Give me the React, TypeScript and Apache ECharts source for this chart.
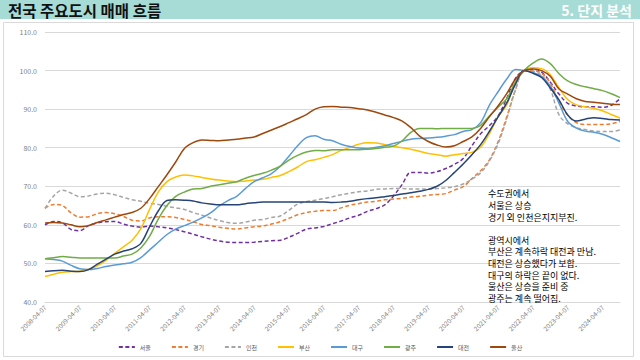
import React, { useEffect, useRef } from "react";
import * as echarts from "echarts";

// Quarterly categories 2008-04-07 .. 2024-10-07
const categories: string[] = [];
for (let i = 0; i < 67; i++) {
  const m = 3 + 3 * i; // zero-based month index from Jan 2008
  const y = 2008 + Math.floor(m / 12);
  const mm = (m % 12) + 1;
  categories.push(`${y}-${String(mm).padStart(2, "0")}-07`);
}

const seriesNames = ["서울", "경기", "인천", "부산", "대구", "광주", "대전", "울산"];

const seoul = [60.0, 60.9, 60.5, 58.8, 58.5, 59.8, 60.5, 60.8, 60.9, 60.2, 59.7, 59.4, 59.7, 59.5, 59.2, 58.8, 58.2, 57.6, 56.9, 56.3, 55.8, 55.5, 55.4, 55.4, 55.5, 55.7, 55.9, 56.0, 56.8, 57.8, 58.9, 59.2, 59.6,
  60.3, 61.0, 61.8, 62.5, 63.5, 64.2, 65.2, 67.5, 70.5, 73.6, 73.6, 73.4, 73.8, 74.6, 75.7, 77.2, 80.5, 83.6, 85.7, 88.2, 92.8, 98.0, 100, 100.4, 99.6, 97.0, 93.9, 91.5, 90.8, 90.6, 90.6, 90.5, 91.0, 92.7];
const gyeonggi = [64.3, 65.3, 65.0, 63.1, 62.0, 62.1, 62.9, 63.2, 62.9, 62.2, 61.2, 61.0, 61.8, 62.1, 62.1, 61.9, 61.4, 60.8, 60.1, 59.8, 59.4, 59.1, 58.9, 59.2, 59.5, 59.7, 60.2, 60.8, 61.7, 62.6, 63.2, 63.5, 63.7,
  63.7, 64.4, 65.1, 65.5, 65.9, 66.1, 66.5, 66.7, 66.9, 67.2, 67.4, 67.7, 67.9, 68.1, 69.0, 69.9, 72.0, 74.0, 76.8, 81.5, 88.0, 95.0, 100, 100.0, 99.3, 96.8, 92.0, 88.4, 86.5, 86.0, 86.0, 86.0, 86.2, 86.8];
const incheon = [64.3, 67.5, 69.0, 68.2, 67.3, 67.5, 68.0, 68.2, 67.8, 67.1, 66.5, 66.1, 65.6, 65.3, 64.8, 64.4, 64.0, 63.2, 62.5, 61.8, 61.1, 60.6, 60.4, 60.7, 61.2, 61.4, 61.9, 62.3, 63.8, 65.4, 66.0, 66.4, 66.8,
  67.3, 67.8, 68.2, 68.6, 68.8, 69.2, 69.3, 69.4, 69.4, 69.3, 69.3, 69.3, 69.4, 69.6, 69.9, 70.6, 71.8, 73.5, 76.5, 81.0, 87.5, 95.0, 100, 99.8, 98.8, 95.2, 88.5, 86.2, 85.2, 84.7, 84.3, 84.2, 84.2, 84.6];
const busan = [46.6, 47.2, 47.7, 47.9, 48.0, 48.5, 49.4, 50.8, 52.6, 54.3, 56.0, 59.0, 64.0, 68.5, 71.2, 72.4, 72.9, 72.7, 72.3, 71.9, 71.6, 71.4, 71.2, 71.4, 71.6, 71.8, 72.3, 72.8, 73.8, 75.0, 76.4, 76.9, 77.5,
  78.2, 79.3, 80.1, 80.9, 81.3, 81.2, 80.8, 80.4, 80.0, 79.6, 79.1, 78.5, 78.2, 77.8, 78.2, 78.5, 78.8, 80.1, 83.6, 88.0, 91.1, 97.0, 100, 100.7, 100.5, 98.9, 95.5, 92.5, 91.1, 90.6, 90.2, 89.6, 88.6, 87.7];
const daegu = [51.2, 51.0, 50.6, 49.5, 48.6, 48.4, 48.7, 49.2, 49.6, 49.9, 50.3, 51.5, 53.5, 55.5, 57.5, 58.9, 59.8, 60.7, 61.8, 63.1, 64.9, 66.3, 67.4, 69.4, 71.2, 72.2, 73.3, 75.2, 77.8, 80.5, 82.6, 83.1, 82.2,
  81.8, 80.9, 80.3, 79.9, 79.8, 80.1, 80.5, 81.1, 81.7, 82.2, 82.4, 82.5, 82.7, 83.0, 83.4, 84.2, 84.7, 86.5, 91.0, 94.5, 97.8, 100.3, 100, 99.5, 98.5, 96.0, 91.5, 86.8, 85.1, 84.3, 84.0, 83.5, 82.6, 81.6];
const gwangju = [51.2, 51.5, 51.8, 51.6, 51.4, 51.4, 51.4, 51.4, 51.4, 51.9, 52.4, 54.0, 57.0, 61.5, 65.0, 67.4, 68.5, 69.3, 69.4, 70.0, 70.4, 70.8, 71.2, 72.1, 72.8, 73.4, 74.2, 75.2, 76.8, 78.0, 78.9, 79.3, 79.2,
  79.5, 79.5, 79.5, 79.5, 79.6, 79.8, 80.1, 80.4, 81.8, 84.0, 85.0, 85.0, 84.9, 85.0, 85.0, 85.0, 85.0, 85.8, 88.2, 90.5, 92.7, 97.0, 100, 101.9, 103.0, 101.8, 99.2, 97.3, 96.4, 95.8, 95.3, 94.8, 94.0, 93.0];
const daejeon = [47.9, 48.1, 48.2, 48.0, 47.9, 48.4, 49.8, 51.1, 52.4, 53.2, 53.8, 55.2, 59.5, 63.6, 66.3, 66.5, 66.4, 66.2, 65.7, 65.4, 65.2, 65.2, 65.2, 65.5, 65.7, 65.9, 65.9, 65.9, 65.9, 65.9, 65.9, 65.9, 65.9,
  65.8, 65.9, 66.1, 66.5, 66.8, 67.0, 67.3, 67.6, 68.0, 68.3, 68.7, 69.2, 70.0, 71.5, 73.6, 75.8, 78.2, 80.8, 84.2, 88.0, 91.6, 96.5, 100, 99.3, 98.2, 95.5, 92.4, 88.5, 86.9, 87.4, 87.8, 87.6, 87.3, 87.2];
const ulsan = [60.5, 60.6, 60.5, 60.0, 59.5, 59.8, 60.6, 61.3, 62.0, 62.7, 63.2, 64.3, 66.8, 69.9, 73.0, 76.3, 79.8, 81.3, 82.0, 81.9, 81.8, 82.0, 82.2, 82.5, 82.8, 83.7, 84.6, 85.5, 86.5, 87.5, 88.6, 90.0, 90.6,
  90.7, 90.5, 90.4, 90.1, 89.8, 89.2, 88.5, 87.8, 86.9, 85.2, 83.0, 81.6, 80.7, 80.2, 80.5, 81.6, 82.8, 85.0, 88.0, 90.8, 94.0, 97.8, 100, 100.4, 100.0, 98.5, 95.2, 93.9, 92.7, 92.0, 91.8, 91.5, 91.3, 91.2];

const seriesData = [seoul, gyeonggi, incheon, busan, daegu, gwangju, daejeon, ulsan];
const seriesColors = ["#7030A0", "#ED7D31", "#A5A5A5", "#FFC000", "#5B9BD5", "#70AD47", "#264478", "#9E480E"];
const dashed = [true, true, true, false, false, false, false, false];

const yTicks = { min: 40, max: 110, interval: 10 };

const titleText = "전국 주요도시 매매 흐름";
const sectionText = "5. 단지 분석";
const noteText = [
  "수도권에서",
  "서울은 상승",
  "경기 외 인천은지지부진.",
  "",
  "광역시에서",
  "부산은 계속하락 대전과 만남.",
  "대전은 상승했다가 보합.",
  "대구의 하락은 끝이 없다.",
  "울산은 상승을 준비 중",
  "광주는 계속 떨어짐.",
];

const FONT = "'Noto Sans CJK KR', 'Noto Sans', sans-serif";

export default function App() {
  const ref = useRef<HTMLDivElement>(null);
  useEffect(() => {
    if (!ref.current) return;
    const chart = echarts.init(ref.current, undefined, { renderer: "svg" });
    chart.setOption({
      animation: false,
      backgroundColor: "#ffffff",
      textStyle: { fontFamily: FONT },
      graphic: [
        { type: "rect", z: -10, shape: { x: 0, y: 0, width: 640, height: 19 }, style: { fill: "#a6dcd5" } },
        { type: "rect", z: -10, shape: { x: 3.5, y: 22.5, width: 630, height: 334 }, style: { fill: "#ffffff", stroke: "#d9d9d9", lineWidth: 1 } },
        { type: "text", x: 8, y: 10, style: { text: titleText, fill: "#111111", font: `bold 15.5px ${FONT}`, verticalAlign: "middle" } },
        { type: "text", x: 632, y: 10, style: { text: sectionText, fill: "#ffffff", font: `bold 14px ${FONT}`, align: "right", verticalAlign: "middle" } },
        { type: "text", x: 488, y: 188, z: 10, style: { text: noteText.join("\n"), fill: "#000000", font: `9px ${FONT}`, lineHeight: 11.6 } },
      ],
      grid: { left: 45, right: 20, top: 32, bottom: 58, containLabel: false },
      legend: {
        data: seriesNames,
        top: 339,
        left: "center",
        itemWidth: 16,
        itemHeight: 6,
        itemGap: 20,
        itemStyle: { opacity: 0 },
        textStyle: { fontSize: 6, color: "#595959", fontFamily: FONT },
      },
      xAxis: {
        type: "category",
        data: categories,
        boundaryGap: false,
        axisLine: { lineStyle: { color: "#d9d9d9" } },
        axisTick: { show: false },
        axisLabel: { interval: 3, rotate: 45, fontSize: 6.5, color: "#7f7f7f", margin: 4 },
        splitLine: { show: false },
      },
      yAxis: {
        type: "value",
        min: yTicks.min,
        max: yTicks.max,
        interval: yTicks.interval,
        axisLine: { show: false },
        axisTick: { show: false },
        axisLabel: { fontSize: 7, color: "#7f7f7f", margin: 8, formatter: (v: number) => v.toFixed(1) },
        splitLine: { lineStyle: { color: "#d9d9d9", width: 1 } },
      },
      series: seriesNames.map((name, i) => ({
        name,
        type: "line",
        data: seriesData[i],
        symbol: "none",
        smooth: 0.35,
        lineStyle: { color: seriesColors[i], width: 1.5, type: dashed[i] ? [4, 2.5] : "solid" },
        itemStyle: { color: seriesColors[i] },
      })),
    });
    return () => chart.dispose();
  }, []);
  return <div ref={ref} style={{ position: "absolute", left: 0, top: 0, width: 640, height: 360 }} />;
}
